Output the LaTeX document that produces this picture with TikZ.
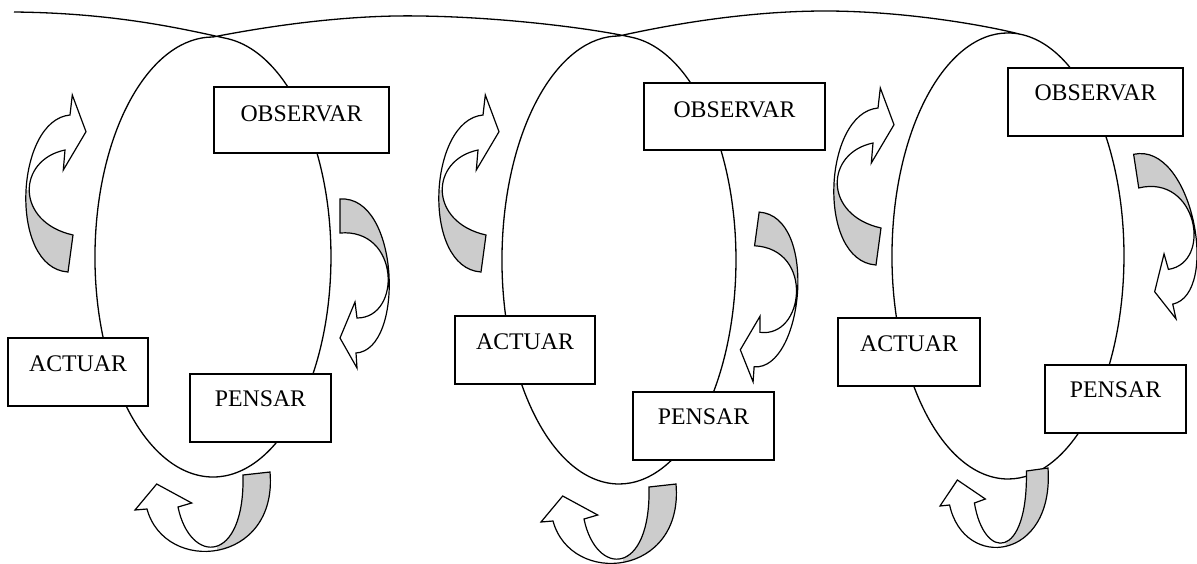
\documentclass[tikz,border=0pt]{standalone}
\usepackage{fontspec}
\setmainfont{Liberation Serif}
\tikzset{
  coil/.style={line width=1.3pt, line join=round},
  boxst/.style={draw, line width=1.5pt, fill=white, inner sep=0pt, rectangle},
  lbl/.style={font=\fontsize{23.8}{28}\selectfont, inner sep=0pt},
  arrowline/.style={line width=1.2pt, line join=miter},
  bandgray/.style={fill=black!20},
}
\newcommand{\ArrL}{%
  \begin{scope}
    \clip (0,190) rectangle (130,300);
    \fill[bandgray] (70,115) .. controls (15,120) and (8,268) .. (68,272) -- (73,235)
      .. controls (15,222) and (17,160) .. (65,150) -- cycle;
  \end{scope}
  \draw[arrowline] (65,150) -- (63.3,170) -- (86,131.7) -- (72.3,95) -- (70,115)
    .. controls (15,120) and (8,268) .. (68,272) -- (73,235)
    .. controls (15,222) and (17,160) .. (65,150) -- cycle;
}
\newcommand{\ArrR}{%
  \begin{scope}
    \clip (320,180) rectangle (420,274);
    \fill[bandgray] (340,199) .. controls (400,195) and (405,350) .. (357,353) -- (357,318)
      .. controls (402,318) and (400,228) .. (340,233) -- cycle;
  \end{scope}
  \draw[arrowline] (357,318) -- (355,302) -- (340,338) -- (357,368) -- (356,353)
    .. controls (405,350) and (400,195) .. (340,199) -- (340,233)
    .. controls (400,228) and (402,318) .. (357,318) -- cycle;
}
\newcommand{\ArrB}{%
  \begin{scope}
    \clip (217,460) rectangle (300,570);
    \fill[bandgray] (270,472) .. controls (278,565) and (165,575) .. (147,509) -- (178,507)
      .. controls (190,565) and (245,565) .. (243,475) -- cycle;
  \end{scope}
  \draw[arrowline] (178,507) -- (191.7,503) -- (156.7,484) -- (135,510) -- (147,509)
    .. controls (165,575) and (278,565) .. (270,472) -- (243,475)
    .. controls (245,565) and (190,565) .. (178,507) -- cycle;
}
\begin{document}
\begin{tikzpicture}[x=1pt,y=-1pt]
\useasboundingbox (0,0) rectangle (1197,563);

% the coil
\draw[coil] (14,12) .. controls (110,13) and (175,27) .. (225.3,38.2)
  arc[start angle=-84, end angle=270, x radius=118, y radius=220]
  .. controls (300,20) and (370,15) .. (420,16)
  .. controls (500,17) and (590,28) .. (631.2,37.2)
  arc[start angle=-84, end angle=270, x radius=117, y radius=224]
  .. controls (700,18) and (770,11) .. (825,11)
  .. controls (900,11) and (980,24) .. (1020.1,34.2)
  arc[start angle=-84, end angle=276, x radius=116, y radius=223];

% panel 1 boxes
\node[boxst, minimum width=175pt, minimum height=66pt] (obs1) at (301.5,120) {};
\node[lbl, anchor=base] (obs1t) at ([yshift=-35pt]obs1.north) {OBSERVAR};
\node[boxst, minimum width=140pt, minimum height=68pt] (act1) at (78,372) {};
\node[lbl, anchor=base] (act1t) at ([yshift=-34pt]act1.north) {ACTUAR};
\node[boxst, minimum width=141pt, minimum height=68pt] (pen1) at (260.5,408) {};
\node[lbl, anchor=base] (pen1t) at ([yshift=-33pt]pen1.north) {PENSAR};

% panel 2 boxes
\node[boxst, minimum width=181pt, minimum height=67pt] (obs2) at (734.5,116.5) {};
\node[lbl, anchor=base] (obs2t) at ([yshift=-35pt]obs2.north) {OBSERVAR};
\node[boxst, minimum width=140pt, minimum height=68pt] (act2) at (525,350) {};
\node[lbl, anchor=base] (act2t) at ([yshift=-34pt]act2.north) {ACTUAR};
\node[boxst, minimum width=141pt, minimum height=68pt] (pen2) at (703.5,426) {};
\node[lbl, anchor=base] (pen2t) at ([yshift=-33pt]pen2.north) {PENSAR};

% panel 3 boxes
\node[boxst, minimum width=175pt, minimum height=68pt] (obs3) at (1095.5,102) {};
\node[lbl, anchor=base] (obs3t) at ([yshift=-33pt]obs3.north) {OBSERVAR};
\node[boxst, minimum width=142pt, minimum height=68pt] (act3) at (909,352) {};
\node[lbl, anchor=base] (act3t) at ([yshift=-34pt]act3.north) {ACTUAR};
\node[boxst, minimum width=141pt, minimum height=68pt] (pen3) at (1115.5,399) {};
\node[lbl, anchor=base] (pen3t) at ([yshift=-33pt]pen3.north) {PENSAR};

% curved arrows, panel 1
\ArrL \ArrR \ArrB
% panel 2
\begin{scope}[shift={(413,0)}] \ArrL \end{scope}
\begin{scope}[shift={(408,19)}, rotate around={-7.8:(389,278)}] \ArrR \end{scope}
\begin{scope}[shift={(406,12)}] \ArrB \end{scope}
% panel 3
\begin{scope}[shift={(808,-7)}] \ArrL \end{scope}
\begin{scope}[shift={(805,-53)}, rotate around={8.7:(389,278)}] \ArrR \end{scope}
\begin{scope}[shift={(832,-4)}, xscale=0.8] \ArrB \end{scope}
\end{tikzpicture}
\end{document}
